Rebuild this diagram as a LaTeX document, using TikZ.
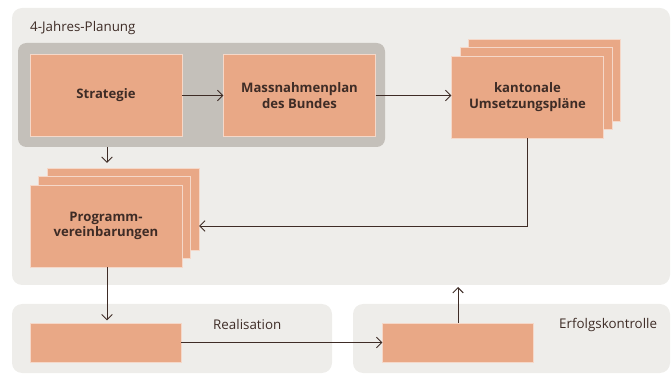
\documentclass[tikz,border=0pt]{standalone}
\usepackage{fontspec}
\setmainfont{Open Sans}
\usetikzlibrary{arrows.meta}
\definecolor{lachs}{RGB}{233,168,134}
\definecolor{hellgrau}{RGB}{238,237,234}
\definecolor{kerngrau}{RGB}{196,192,186}
\definecolor{braun}{RGB}{62,44,38}
\tikzset{
 feld/.style={draw=white!55!lachs, line width=0.5pt, fill=lachs, text=braun, font=\bfseries\fontsize{11.2}{13.2}\selectfont, align=center, inner sep=0pt},
 gross/.style={feld, minimum width=4.55cm, minimum height=2.47cm},
 flach/.style={feld, minimum width=4.52cm, minimum height=1.17cm},
 pfeil/.style={draw=braun, line width=0.8pt, -{Straight Barb[length=4.5pt,width=9pt]}},
 titel/.style={text=braun, font=\fontsize{11.4}{13}\selectfont, anchor=west, inner sep=0pt}
}
\begin{document}
\begin{tikzpicture}[x=0.03cm,y=-0.03cm]
\useasboundingbox (0,0) rectangle (672,374);
% Hintergrundflaechen
\fill[hellgrau, rounded corners=0.3cm] (12,8) rectangle (670,285);
\fill[hellgrau, rounded corners=0.3cm] (12,304) rectangle (332,373);
\fill[hellgrau, rounded corners=0.3cm] (353,304) rectangle (670,373);
\fill[kerngrau, rounded corners=0.25cm] (18,43) rectangle (385,147);
%
\node[titel] (t1) at (30,28) {4-Jahres-Planung};
\node[titel] (t2) at (213,324) {Realisation};
\node[titel] (t3) at (559,325) {Erfolgskontrolle};
%
\node[gross] (strat) at (106,95.5) {Strategie};
\node[gross] (mass) at (299.5,95.5) {Massnahmenplan\\des Bundes};
\node[gross] (kant3) at (544.5,80) {};
\node[gross] (kant2) at (536,88.5) {};
\node[gross] (kant) at (527.5,97) {kantonale\\Umsetzungspläne};
\node[gross] (prog3) at (123,209) {};
\node[gross] (prog2) at (114.5,217.5) {};
\node[gross] (prog) at (106,226) {Programm-\\vereinbarungen};
\node[flach] (real) at (105.5,342.5) {};
\node[flach] (erf) at (458,342.5) {};
%
\coordinate (kernunten) at (107,147);
\coordinate (planunten) at (458,287);
\draw[pfeil] (strat) -- (mass);
\draw[pfeil] (mass.east) -- (mass.east -| kant.west);
\draw[pfeil] (kant.south) |- (prog3.east |- prog.center);
\draw[pfeil, shorten >=4pt] (kernunten) -- (kernunten |- prog3.north);
\draw[pfeil, shorten >=2pt] (prog.south -| kernunten) -- (real.north -| kernunten);
\draw[pfeil] (real) -- (erf);
\draw[pfeil] (erf.north) -- (planunten);
\end{tikzpicture}
\end{document}
